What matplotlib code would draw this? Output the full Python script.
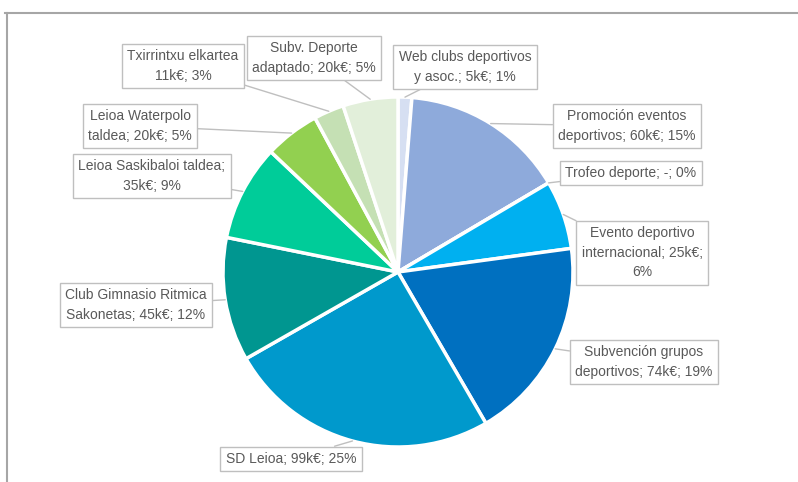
import numpy as np
import matplotlib
matplotlib.use("Agg")
import matplotlib.pyplot as plt
from matplotlib.lines import Line2D

# Datos del gráfico (k€)
etiquetas = [
    "Web clubs deportivos\ny asoc.; 5k€; 1%",
    "Promoción eventos\ndeportivos; 60k€; 15%",
    "Trofeo deporte; -; 0%",
    "Evento deportivo\ninternacional; 25k€;\n6%",
    "Subvención grupos\ndeportivos; 74k€; 19%",
    "SD Leioa; 99k€; 25%",
    "Club Gimnasio Ritmica\nSakonetas; 45k€; 12%",
    "Leioa Saskibaloi taldea;\n35k€; 9%",
    "Leioa Waterpolo\ntaldea; 20k€; 5%",
    "Txirrintxu elkartea\n11k€; 3%",
    "Subv. Deporte\nadaptado; 20k€; 5%",
]
valores = [5, 60, 0, 25, 74, 99, 45, 35, 20, 11, 20]
colores = ["#d6dff2", "#8eaadb", "#8eaadb", "#00b0f0", "#0070c0", "#0099cc",
           "#009690", "#00cc99", "#92d050", "#c5e0b4", "#e2efda"]

# posiciones de las etiquetas (pixeles, origen arriba-izquierda)
pos_etiquetas = [(465, 67), (627, 126), (631, 173), (642, 253), (644, 362),
                 (291, 459), (136, 305), (152, 176), (140, 126), (183, 66),
                 (314, 58)]

W, H = 798, 482
centro = (398, H - 272)
radio = 175

fig = plt.figure(figsize=(W / 100, H / 100), dpi=100)
ax = fig.add_axes([0, 0, 1, 1])

ax.pie(valores, colors=colores, startangle=90, counterclock=False,
       center=centro, radius=radio,
       wedgeprops=dict(edgecolor="white", linewidth=2.5))
ax.set_xlim(0, W)
ax.set_ylim(0, H)
ax.set_aspect("equal")
ax.axis("off")

total = sum(valores)
acum = np.cumsum([0] + valores)
for i, txt in enumerate(etiquetas):
    mid = (acum[i] + acum[i + 1]) / 2 / total * 360
    ang = np.deg2rad(90 - mid)
    px = centro[0] + radio * np.cos(ang)
    py = centro[1] + radio * np.sin(ang)
    lx, ly = pos_etiquetas[i]
    ax.annotate(txt, xy=(px, py), xytext=(lx, H - ly), ha="center", va="center",
                fontsize=10, color="#595959", family="Liberation Sans",
                linespacing=1.5, multialignment="center",
                bbox=dict(boxstyle="square,pad=0.38", fc="white", ec="#bfbfbf", lw=1),
                arrowprops=dict(arrowstyle="-", color="#bfbfbf", lw=1,
                                shrinkA=0, shrinkB=0))

# marco del área del gráfico
fig.add_artist(Line2D([5 / W, 1], [1 - 13 / H, 1 - 13 / H], color="#a6a6a6", lw=1.5))
fig.add_artist(Line2D([7 / W, 7 / W], [0, 1 - 13 / H], color="#a6a6a6", lw=1.5))

fig.savefig("out.png", dpi=100)
